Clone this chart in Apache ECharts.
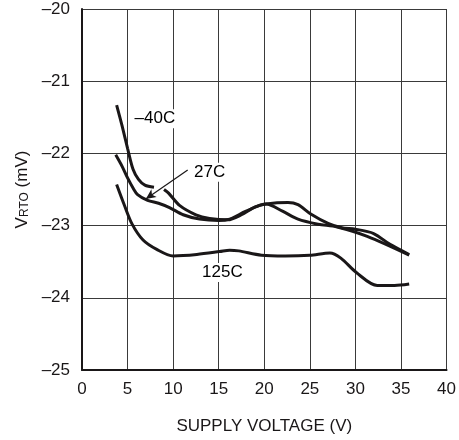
<!DOCTYPE html>
<html>
<head>
<meta charset="utf-8">
<script src="https://cdn.jsdelivr.net/npm/echarts@6/dist/echarts.min.js"></script>
<style>
html,body{margin:0;padding:0;background:#fff;}
#c{width:459px;height:440px;}
</style>
</head>
<body>
<div id="c"></div>
<script>
var xTicks = [0, 5, 10, 15, 20, 25, 30, 35, 40];
var yTicks = [-25, -24, -23, -22, -21, -20];

var curveM40 = [[3.8,-21.33],[4.4,-21.62],[5.0,-21.93],[5.6,-22.22],[6.2,-22.36],[6.9,-22.44],[7.9,-22.47],null,[9.0,-22.50],[9.5,-22.55],[10.7,-22.72],[12.5,-22.85],[14,-22.90],[16,-22.92],[17.5,-22.85],[19,-22.74],[20.2,-22.70],[22.6,-22.68],[23.7,-22.71],[25.1,-22.84],[27,-22.97],[28.5,-23.03],[30,-23.05],[32,-23.11],[33.8,-23.26],[35.9,-23.40]];
var curve27 = [[3.7,-22.02],[4.4,-22.18],[5.0,-22.34],[5.6,-22.48],[6.1,-22.57],[7.2,-22.65],[8.4,-22.69],[9.6,-22.75],[11.1,-22.85],[12.9,-22.91],[15,-22.93],[16.2,-22.91],[18,-22.80],[20.2,-22.70],[22,-22.80],[23.7,-22.91],[25.9,-22.98],[28,-23.02],[31.3,-23.15],[35.9,-23.41]];
var curve125 = [[3.8,-22.43],[4.6,-22.70],[5.5,-22.98],[6.7,-23.20],[8.2,-23.33],[10,-23.42],[12.6,-23.40],[15.1,-23.36],[16.2,-23.34],[17.2,-23.35],[19.7,-23.41],[22.3,-23.42],[25,-23.41],[27.2,-23.38],[28.4,-23.45],[30.1,-23.65],[32.4,-23.83],[34.3,-23.83],[35.9,-23.81]];

var labelNames = ['\u201340C', '27C', '125C'];
var labelAt = [[8.0,-21.52],[14.0,-22.26],[15.4,-23.65]];
var arrowFrom = [11.6,-22.23];
var arrowTo = [7.0,-22.63];

var FONT = "'Liberation Sans Narrow','Liberation Sans',Arial,sans-serif";
var INK = '#1a1718';
function fmt(v){ return String(v).replace('-', '\u2013'); }

var lineStyle = {color: INK, width: 3};
function curve(data){
  return {type:'line', data:data, smooth:0.3, showSymbol:false, symbol:'none',
          connectNulls:false, lineStyle:lineStyle, silent:true, z:3};
}

var chart = echarts.init(document.getElementById('c'), null, {renderer:'canvas'});
chart.setOption({
  animation:false,
  backgroundColor:'#fff',
  grid:{left:82, right:9, top:9, bottom:64, containLabel:false},
  xAxis:{
    type:'value', min:xTicks[0], max:xTicks[xTicks.length-1], interval:5,
    name:'SUPPLY VOLTAGE (V)', nameLocation:'middle', nameGap:48,
    nameTextStyle:{fontFamily:FONT, fontSize:17, color:INK},
    axisLine:{show:true, lineStyle:{color:INK, width:2}},
    axisTick:{show:false},
    axisLabel:{fontFamily:FONT, fontSize:17, color:INK, margin:11, formatter:fmt},
    splitLine:{show:true, lineStyle:{color:'#3a3a3a', width:1}}
  },
  yAxis:{
    type:'value', min:yTicks[0], max:yTicks[yTicks.length-1], interval:1,
    name:'{v|V}{s|RTO}{v| (mV)}', nameLocation:'middle', nameGap:50, nameRotate:90,
    nameTextStyle:{rich:{
      v:{fontFamily:FONT, fontSize:17, color:INK},
      s:{fontFamily:FONT, fontSize:12, color:INK, verticalAlign:'bottom', lineHeight:10}
    }},
    axisLine:{show:true, lineStyle:{color:INK, width:2}},
    axisTick:{show:false},
    axisLabel:{fontFamily:FONT, fontSize:17, color:INK, margin:12, formatter:fmt},
    splitLine:{show:true, lineStyle:{color:'#3a3a3a', width:1}}
  },
  series:[
    curve(curveM40),
    curve(curve27),
    curve(curve125),
    {type:'line', data:[], silent:true,
     markLine:{silent:true, symbol:['none','arrow'], symbolSize:[7,10], label:{show:false},
       lineStyle:{color:INK, width:1.2, type:'solid'},
       data:[[{coord:arrowFrom},{coord:arrowTo}]]}}
  ]
});

var texts = labelAt.map(function(p, i){
  var px = chart.convertToPixel({gridIndex:0}, p);
  return {type:'text', x:px[0], y:px[1], z:10, silent:true,
    style:{text:labelNames[i], fill:'#000', font:'17px ' + FONT,
           align:'center', verticalAlign:'middle',
           backgroundColor:'#fff', padding:[1,2]}};
});
chart.setOption({graphic:texts});
</script>
</body>
</html>
